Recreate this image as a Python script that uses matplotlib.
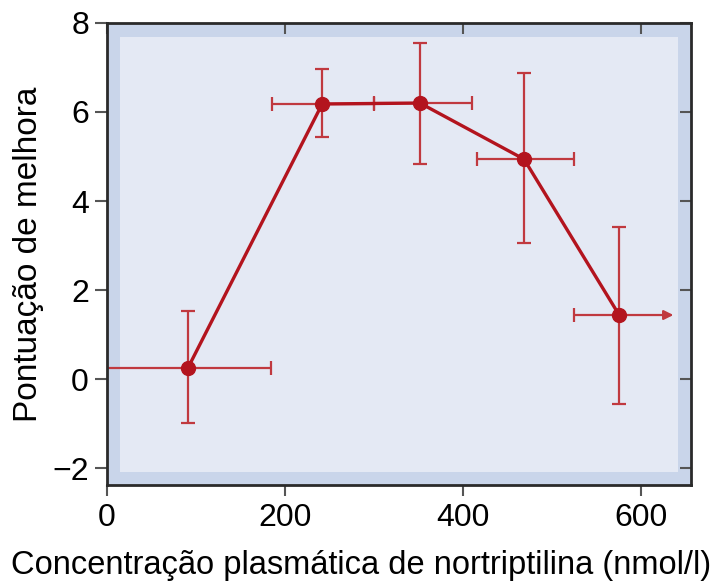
import matplotlib
matplotlib.use('Agg')
from matplotlib import pyplot as plt
from matplotlib.patches import Rectangle

# valores
conc = [91, 242, 352, 469, 576]
score = [0.25, 6.18, 6.2, 4.94, 1.44]
conc_lo = [-20, 186, 300, 416, 525]
conc_hi = [184, 300, 411, 525, 637]
score_lo = [-0.99, 5.44, 4.83, 3.06, -0.56]
score_hi = [1.53, 6.97, 7.55, 6.88, 3.42]
xticks = [0, 200, 400, 600]
yticks = [-2, 0, 2, 4, 6, 8]

plt.rcParams['font.family'] = ['Liberation Sans', 'DejaVu Sans']

red = '#b3141e'
err_red = '#c0393f'

fig = plt.figure(figsize=(7.23, 5.88), dpi=100)
ax = fig.add_axes([0.148, 0.175, 0.808, 0.786])
ax.set_facecolor('#c9d5ea')
ax.add_patch(Rectangle((0.022, 0.028), 0.956, 0.942, transform=ax.transAxes,
                       facecolor='#e4e9f4', edgecolor='none', zorder=0))

n = len(conc)
xerr_lo = [conc[i] - conc_lo[i] for i in range(n)]
xerr_hi = [conc_hi[i] - conc[i] for i in range(n)]
yerr_lo = [score[i] - score_lo[i] for i in range(n)]
yerr_hi = [score_hi[i] - score[i] for i in range(n)]

# ultima barra horizontal tem seta a direita, sem traco
xerr_hi_caps = xerr_hi[:-1] + [0]
ax.errorbar(conc, score, xerr=[xerr_lo, xerr_hi_caps], yerr=[yerr_lo, yerr_hi],
            fmt='none', ecolor=err_red, elinewidth=1.6, capsize=5, capthick=1.6, zorder=2)
ax.annotate('', xy=(conc_hi[-1], score[-1]), xytext=(conc[-1], score[-1]),
            arrowprops=dict(arrowstyle='-|>', color=err_red, lw=1.6,
                            mutation_scale=14, shrinkA=0, shrinkB=0), zorder=2)
ax.plot(conc, score, color=red, linewidth=2.4, marker='o', markersize=10,
        markerfacecolor=red, markeredgecolor=red, zorder=3)

ax.set_xlim(0, 657)
ax.set_ylim(-2.38, 8)
ax.set_xticks(xticks)
ax.set_yticks(yticks)
ax.set_yticklabels(['\u22122', '0', '2', '4', '6', '8'])

ax.tick_params(axis='both', which='both', labelsize=23, color='#555555', width=1.5)
ax.tick_params(axis='x', direction='out', length=8, pad=5)
ax.tick_params(axis='y', direction='out', length=9, pad=4)
ax.tick_params(top=True, right=True)
for t in ax.xaxis.get_major_ticks():
    t.tick2line.set_marker(3)
    t.tick2line.set_markersize(8)
for t in ax.yaxis.get_major_ticks():
    t.tick2line.set_marker(0)
    t.tick2line.set_markersize(8)

for s in ax.spines.values():
    s.set_linewidth(2)
    s.set_color('#2a2a2a')

ax.set_xlabel('Concentração plasmática de nortriptilina (nmol/l)', fontsize=23.5,
              va='center')
ax.xaxis.set_label_coords(0.5, 0.038, transform=fig.transFigure)
ax.set_ylabel('Pontuação de melhora', fontsize=24, labelpad=6)

fig.savefig('out.png', dpi=100)
